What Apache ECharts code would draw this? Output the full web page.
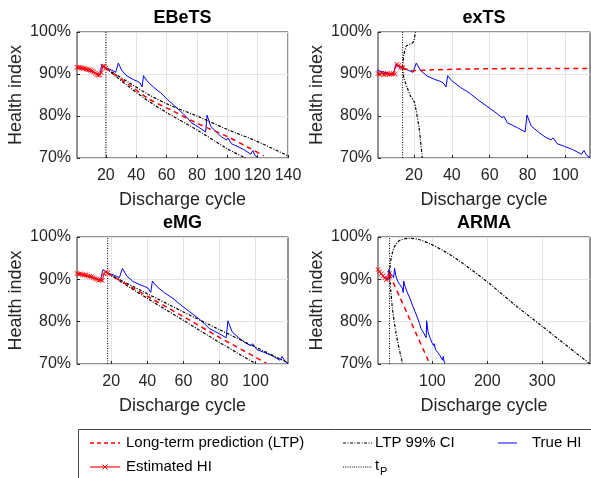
<!DOCTYPE html>
<html>
<head>
<meta charset="utf-8">
<script src="https://cdn.jsdelivr.net/npm/echarts@6/dist/echarts.min.js"></script>
<style>
html,body{margin:0;padding:0;background:#fff;}
#chart{width:591px;height:478px;}
</style>
</head>
<body>
<div id="chart"></div>
<script>
// ---------- DATA ----------
const panelNames = ['EBeTS', 'exTS', 'eMG', 'ARMA'];
const xMin = [1, 1, 1, 1];
const xMax = [140, 113, 118, 387];
const xTicks = [[20, 40, 60, 80, 100, 120, 140], [20, 40, 60, 80, 100], [20, 40, 60, 80, 100], [100, 200, 300]];
const yTicks = [70, 80, 90, 100];
const tP = [20, 14, 18, 22];
// cycle shift of the true-HI record in each panel
const trueShift = [2, -5, 0, 5];

// True HI (%) vs cycle (eMG cycle numbering)
const trueCycle = [1, 4, 8, 11, 14, 15.4, 17.6, 20, 22, 24.5, 26.2, 28.6, 32, 36, 38.6, 40.4, 41.9, 42.8, 45, 49.6, 54.2, 58.7, 63.3, 68.8, 71.5, 72.6, 74.3, 77, 79.7, 83.7, 84.7, 87, 90.7, 94.3, 97.4, 98.4, 100.7, 104.4, 108.9, 113.5, 114.8, 116.3, 118];
const trueHI = [91.4, 91.0, 90.6, 90.2, 89.8, 92.3, 91.5, 91.2, 90.9, 90.4, 92.6, 90.8, 89.5, 88.7, 88.3, 87.9, 86.9, 89.6, 88.4, 86.8, 85.5, 83.9, 82.4, 80.6, 79.6, 79.9, 78.4, 77.8, 77.2, 76.2, 80.2, 77.6, 76.2, 75.0, 74.3, 74.8, 73.4, 72.8, 72.0, 70.9, 71.8, 70.6, 70.1];

// Estimated HI (%) before tP
const estCycle = [
  [1,2,3,4,5,6,7,8,9,10,11,12,13,14,15,16,17,18,19,20],
  [1,2,3,4,5,6,7,8,9,10,11,12,13,14],
  [1,2,3,4,5,6,7,8,9,10,11,12,13,14,15,16,17,18],
  [1,4,7,10,13,16,19,22]
];
const estHI = [
  [91.6,91.5,91.6,91.4,91.3,91.4,91.2,91.1,91.0,90.9,90.7,90.5,90.2,89.9,89.7,89.8,90.3,91.8,91.9,91.4],
  [90.1,89.9,90.2,89.8,90.0,90.2,89.9,90.0,90.1,90.0,92.3,92.0,91.6,91.5],
  [91.4,91.2,91.3,91.1,91.0,91.1,90.8,90.7,90.6,90.4,90.2,90.0,89.8,89.9,89.7,91.3,91.8,91.5],
  [92.3,91.8,91.3,90.8,90.3,89.9,90.2,91.4]
];

// Long-term prediction (LTP)
const ltpCycle = [
  [20, 35, 48.6, 62, 80, 100, 114, 124],
  [14, 17, 20, 30, 50, 80, 113],
  [18, 40, 60, 80, 100, 106],
  [22, 40, 55, 70, 94]
];
const ltpHI = [
  [91.4, 87.5, 84.0, 81.6, 78.3, 75.1, 72.5, 70.5],
  [91.5, 91.0, 90.8, 91.0, 91.2, 91.3, 91.3],
  [91.4, 86.0, 81.2, 76.3, 71.6, 70.2],
  [91.2, 86.0, 81.7, 77.3, 70.4]
];

// LTP 99% CI upper bound
const ciUpCycle = [
  [20, 35, 48.6, 62, 80, 100, 120, 140],
  [14, 14.7, 15.9, 17.3, 19.1, 20, 20.9],
  [18, 40, 60, 80, 100, 118],
  [22, 23, 25, 28, 33, 42, 60, 75, 94, 125, 155, 200, 247, 300, 338, 387]
];
const ciUpHI = [
  [91.4, 88.0, 85.0, 82.6, 80.0, 76.8, 73.9, 70.5],
  [91.5, 94.6, 96.6, 97.0, 97.4, 97.9, 100.5],
  [91.4, 86.6, 82.3, 78.1, 74.0, 70.3],
  [91.0, 93.0, 95.0, 96.6, 98.2, 99.3, 99.7, 99.4, 98.5, 96.4, 93.8, 89.4, 84.3, 78.9, 75.0, 70.0]
];
// LTP 99% CI lower bound
const ciLoCycle = [
  [20, 35, 48.6, 62, 80, 100, 112],
  [14, 14.7, 16.5, 18.2, 20, 20.9, 22.7, 24.4],
  [18, 40, 60, 80, 100],
  [22, 24.5, 27.3, 33.4, 39.4, 45.5]
];
const ciLoHI = [
  [91.4, 87.0, 83.4, 80.4, 76.7, 72.2, 70.0],
  [91.5, 89.0, 86.7, 84.7, 83.5, 81.9, 77.1, 70.0],
  [91.4, 85.5, 80.3, 75.1, 70.1],
  [91.0, 87.0, 83.1, 77.6, 73.7, 70.2]
];

// ---------- LAYOUT ----------
const FONT = 'Liberation Sans, Arial, Helvetica, sans-serif';
const AX = '#262626';
const gridPos = [
  {left: 77, top: 32, width: 211, height: 126},
  {left: 378, top: 32, width: 212, height: 126},
  {left: 77, top: 237, width: 211, height: 127},
  {left: 378, top: 237, width: 212, height: 127}
];
const xSym = 'path://M0,1L1,0L5,4L9,0L10,1L6,5L10,9L9,10L5,6L1,10L0,9L4,5Z';

const zip = (xs, ys) => xs.map((x, i) => [x, ys[i]]);

const grids = [], xAxes = [], yAxes = [], series = [], graphics = [];
panelNames.forEach((name, i) => {
  const g = gridPos[i];
  grids.push({left: g.left, top: g.top, width: g.width, height: g.height, show: true,
    borderColor: AX, borderWidth: 1, backgroundColor: '#fff', containLabel: false});
  xAxes.push({type: 'value', gridIndex: i, min: xMin[i], max: xMax[i],
    axisLine: {show: false},
    axisTick: {show: true, inside: true, length: 3, customValues: xTicks[i], lineStyle: {color: AX}},
    axisLabel: {customValues: xTicks[i], fontSize: 16, color: AX, fontFamily: FONT, margin: 10},
    splitLine: {show: true, lineStyle: {color: '#e3e3e3', width: 1}},
    name: 'Discharge cycle', nameLocation: 'middle', nameGap: 33,
    nameTextStyle: {fontSize: 18, color: AX, fontFamily: FONT}
  });
  yAxes.push({type: 'value', gridIndex: i, min: 70, max: 100, interval: 10,
    axisLine: {show: false},
    axisTick: {show: true, inside: true, length: 3, lineStyle: {color: AX}},
    axisLabel: {formatter: '{value}%', fontSize: 16, color: AX, fontFamily: FONT, margin: 6},
    splitLine: {show: true, lineStyle: {color: '#e3e3e3', width: 1}},
    name: 'Health index', nameLocation: 'middle', nameGap: 52,
    nameTextStyle: {fontSize: 18, color: AX, fontFamily: FONT}
  });
  const base = {type: 'line', xAxisIndex: i, yAxisIndex: i, showSymbol: false, symbol: 'none',
    animation: false, silent: true, clip: true};
  series.push(Object.assign({}, base, {name: 'True HI',
    data: trueCycle.map((c, k) => [c + trueShift[i], trueHI[k]]),
    lineStyle: {color: '#0000ff', width: 1}}));
  series.push(Object.assign({}, base, {name: 'LTP 99% CI', data: zip(ciUpCycle[i], ciUpHI[i]), smooth: 0.3,
    lineStyle: {color: '#000', width: 1.2, type: [3, 1.5, 1, 1.5]}}));
  series.push(Object.assign({}, base, {name: 'LTP 99% CI', data: zip(ciLoCycle[i], ciLoHI[i]), smooth: 0.3,
    lineStyle: {color: '#000', width: 1.2, type: [3, 1.5, 1, 1.5]}}));
  series.push(Object.assign({}, base, {name: 'Long-term prediction (LTP)', data: zip(ltpCycle[i], ltpHI[i]), smooth: 0.3,
    lineStyle: {color: '#ff0000', width: 1.5, type: [5, 4]}}));
  series.push(Object.assign({}, base, {name: 'Estimated HI', data: zip(estCycle[i], estHI[i]),
    showSymbol: true, symbol: xSym, symbolSize: 5,
    itemStyle: {color: '#ff0000'},
    lineStyle: {color: '#ff0000', width: 1}}));
  series.push(Object.assign({}, base, {name: 'tP', data: [[tP[i], 70], [tP[i], 100]],
    lineStyle: {color: '#000', width: 1, type: [1, 1.5]}}));
  graphics.push({type: 'text', x: g.left + g.width / 2, y: g.top - 14, z: 10,
    style: {text: name, font: 'bold 18px ' + FONT, fill: '#000', align: 'center', verticalAlign: 'middle'}});
});

// legend box
const L1 = 443, L2 = 467;
graphics.push({type: 'rect', z: 5, shape: {x: 78.5, y: 429.5, width: 530, height: 70},
  style: {fill: '#fff', stroke: '#444', lineWidth: 1}});
const legLine = (x1, x2, y, stroke, dash, w) => ({type: 'line', z: 6,
  shape: {x1: x1, y1: y, x2: x2, y2: y}, style: {stroke: stroke, lineWidth: w || 1, lineDash: dash || null}});
const legText = (x, y, t, size) => ({type: 'text', z: 6, x: x, y: y,
  style: {text: t, font: (size || 15) + 'px ' + FONT, fill: '#000', align: 'left', verticalAlign: 'middle'}});
graphics.push(legLine(90, 120, L1, '#ff0000', [4, 3], 1.3));
graphics.push(legText(126, L1, 'Long-term prediction (LTP)'));
graphics.push(legLine(343, 372, L1, '#000', [3, 1.5, 1, 1.5], 1.1));
graphics.push(legText(375, L1, 'LTP 99% CI'));
graphics.push(legLine(498, 517, L1, '#0000ff', null, 1));
graphics.push(legText(532, L1, 'True HI'));
graphics.push(legLine(90, 120, L2, '#ff4040', null, 1.5));
graphics.push({type: 'line', z: 7, shape: {x1: 102.5, y1: 464.5, x2: 107.5, y2: 469.5}, style: {stroke: '#ff0000', lineWidth: 1}});
graphics.push({type: 'line', z: 7, shape: {x1: 107.5, y1: 464.5, x2: 102.5, y2: 469.5}, style: {stroke: '#ff0000', lineWidth: 1}});
graphics.push(legText(126, L2, 'Estimated HI'));
graphics.push(legLine(343, 372, L2, '#000', [1, 1.2], 1));
graphics.push(legText(375, L2 - 1, 't'));
graphics.push(legText(380, L2 + 5, 'P', 11));

const chart = echarts.init(document.getElementById('chart'), null, {renderer: 'canvas'});
chart.setOption({
  backgroundColor: '#fff',
  animation: false,
  grid: grids,
  xAxis: xAxes,
  yAxis: yAxes,
  series: series,
  graphic: graphics
});
</script>
</body>
</html>
